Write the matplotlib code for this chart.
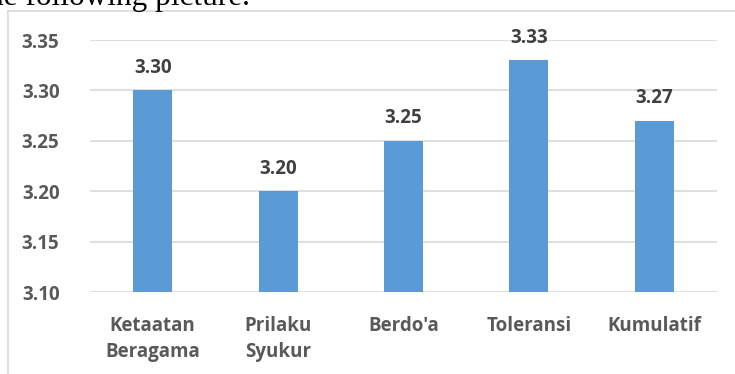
import matplotlib.pyplot as plt
from matplotlib.lines import Line2D

categories = ["Ketaatan\nBeragama", "Prilaku\nSyukur", "Berdo'a", "Toleransi", "Kumulatif"]
values = [3.30, 3.20, 3.25, 3.33, 3.27]
yticks = [3.10, 3.15, 3.20, 3.25, 3.30, 3.35]

plt.rcParams['font.family'] = ['Open Sans', 'DejaVu Sans']

W, H = 735, 374
fig = plt.figure(figsize=(W / 100, H / 100), dpi=100)
ax = fig.add_axes([90 / W, 1 - 292 / H, (717 - 90) / W, (292 - 40) / H])

x = range(len(categories))
bars = ax.bar(x, [v - 3.10 for v in values], bottom=3.10, width=0.31, color='#5b9bd5', zorder=3)

for xi, v in zip(x, values):
    ax.annotate("%.2f" % v, (xi, v), xytext=(0, 9), textcoords='offset points',
                ha='center', va='bottom', fontsize=13.5, fontweight='bold', color='#404040')

ax.set_ylim(3.10, 3.35)
ax.set_xlim(-0.5, len(categories) - 0.5)
ax.set_yticks(yticks)
ax.set_yticklabels(["%.2f" % t for t in yticks])
ax.set_xticks(list(x))
ax.set_xticklabels(categories, linespacing=1.4)
ax.grid(axis='y', color='#d9d9d9', linewidth=1.2, zorder=0)
ax.tick_params(length=0, labelsize=13.5, labelcolor='#595959')
ax.tick_params(axis='y', pad=22)
ax.tick_params(axis='x', pad=17)
for lab in ax.get_xticklabels() + ax.get_yticklabels():
    lab.set_fontweight('bold')
for s in ax.spines.values():
    s.set_visible(False)

# chart frame (cropped) and the document line above it
fig.add_artist(Line2D([8 / W, 8 / W], [1 - 11 / H, 0], color='#d9d9d9', linewidth=1.2))
fig.add_artist(Line2D([8 / W, 1], [1 - 11 / H, 1 - 11 / H], color='#d9d9d9', linewidth=1.2))
fig.text(-12 / W, 1 - 5 / H, "he following picture.", family='Liberation Serif',
         fontsize=22.5, va='baseline', ha='left', color='black')

fig.savefig("out.png", dpi=100)
